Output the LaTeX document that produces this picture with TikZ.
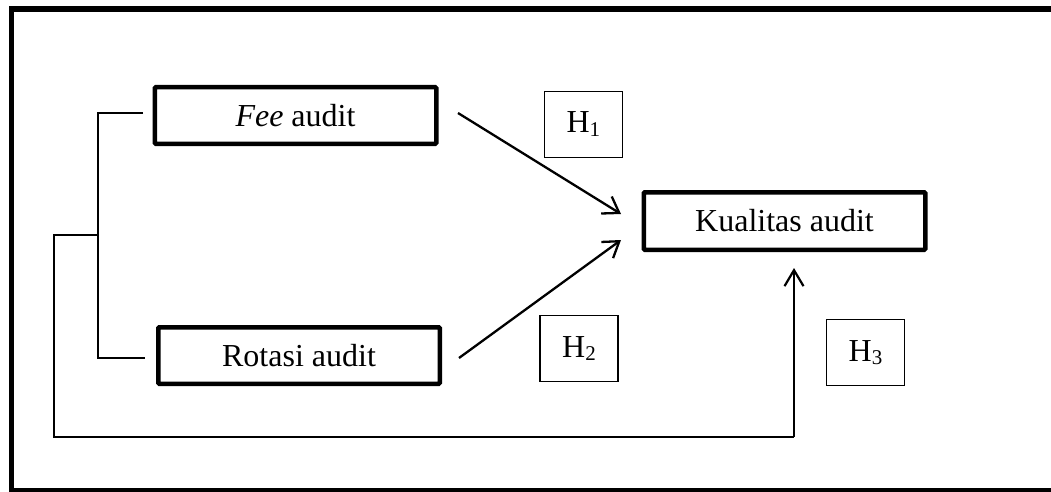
\documentclass[tikz,border=0pt]{standalone}
\usepackage{fontspec}
\setmainfont{Liberation Serif}
\usetikzlibrary{arrows.meta}
\begin{document}
\begin{tikzpicture}[x=1pt,y=-1pt,
  varbox/.style={draw,line width=4.5pt,rounded corners=1pt,minimum width=281.5pt,minimum height=56.5pt,inner sep=0pt,font=\fontsize{32}{34}\selectfont},
  hbox/.style={draw,line width=1.2pt,minimum width=78pt,minimum height=66pt,inner sep=0pt,font=\fontsize{32}{34}\selectfont},
  arr/.style={line width=2.3pt,-{Straight Barb[length=15pt,width=20pt,line width=2.3pt]}},
  thin/.style={line width=1.5pt}]
\useasboundingbox (0,0) rectangle (1051,492);
% frame
\draw[line width=5.5pt] (1060,9) -- (11.5,9) -- (11.5,491) -- (1060,491);
\draw[line width=2pt] (11.5,491) -- (1060,491);
% nodes
\node[varbox] (fee) at (295.5,115.5) {\textit{Fee} audit};
\node[varbox] (rot) at (299,355.5) {Rotasi audit};
\node[varbox,minimum height=57.5pt] (kua) at (784.5,221) {Kualitas audit};
\node[hbox] (h1) at (583.3,124.2) {H\raisebox{-0.12em}{\fontsize{21}{21}\selectfont 1}};
\node[hbox] (h2) at (579,348.5) {H\raisebox{-0.12em}{\fontsize{21}{21}\selectfont 2}};
\node[hbox] (h3) at (865.5,352.7) {H\raisebox{-0.12em}{\fontsize{21}{21}\selectfont 3}};
% arrows
\coordinate (a1s) at (458,113);
\coordinate (a1e) at (621,214);
\coordinate (a2s) at (459,358);
\coordinate (a2e) at (621,240);
\draw[arr] (a1s) -- (a1e);
\draw[arr] (a2s) -- (a2e);
% bracket
\coordinate (bt) at (98,113);
\coordinate (bb) at (98,358);
\coordinate (bm) at (98,235);
\draw[thin] ([xshift=45pt]bt) -- (bt) -- (bb) -- ([xshift=47pt]bb);
\coordinate (l1) at (54,235);
\coordinate (l2) at (54,437);
\coordinate (l3) at (794,437);
\coordinate (l4) at (794,268);
\draw[thin] (bm) -- (l1) -- (l2) -- (l3);
\draw[line width=1.8pt,-{Straight Barb[length=16pt,width=19pt,line width=2.2pt]}] (l3) -- (l4);
\end{tikzpicture}
\end{document}
